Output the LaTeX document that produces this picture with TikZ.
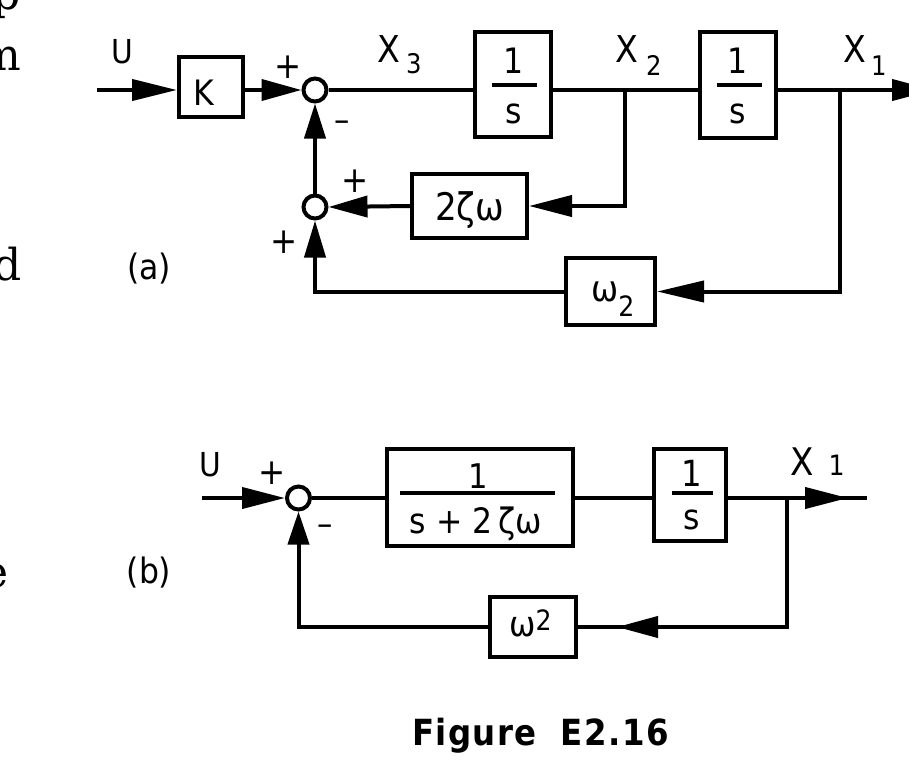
\documentclass[tikz,border=0pt]{standalone}
\usepackage{fontspec}
\setmainfont{DejaVu Sans Condensed}
\newfontfamily\figfont{DejaVu Sans Condensed}[LetterSpace=4]
\newfontfamily\leftserif{DejaVu Serif}
\usetikzlibrary{arrows.meta}
\begin{document}
\begin{tikzpicture}[x=1pt,y=-1pt,
  ln/.style={line width=4pt},
  arr/.style={ln,-{Triangle[length=#1,width=21pt]}}, arr/.default=42pt,
  blk/.style 2 args={draw,line width=4pt,inner sep=0pt,minimum width=#1,minimum height=#2},
  sumc/.style={draw,circle,line width=4pt,fill=white,inner sep=0pt,minimum size=23pt},
  fs/.style={font=\fontsize{#1}{#1}\selectfont,inner sep=0pt},
  bar/.style={line width=4.5pt}]
\clip (0,0) rectangle (909,766);
\fill[white] (0,0) rectangle (909,766);
% page fragments at left edge
\node[font=\leftserif\fontsize{44}{44}\selectfont,inner sep=0pt,anchor=base east] (fp) at (21,9) {p};
\node[font=\leftserif\fontsize{44}{44}\selectfont,inner sep=0pt,anchor=base east] (fm) at (21,70) {m};
\node[font=\leftserif\fontsize{44}{44}\selectfont,inner sep=0pt,anchor=base east] (fd) at (22,280) {d};
\node[font=\leftserif\fontsize{44}{44}\selectfont,inner sep=0pt,anchor=base east] (fe) at (9,587) {e};
% ---------- (a) ----------
\node[blk={64pt}{60pt}] (K) at (211,87) {};
\node[sumc] (s1) at (315,90) {};
\node[sumc] (s2) at (315,207) {};
\node[blk={76pt}{105pt}] (b1) at (513,84.5) {};
\node[blk={76pt}{106pt}] (b2) at (738,85) {};
\node[blk={115pt}{64pt}] (z) at (469.5,206) {};
\node[blk={89pt}{67pt}] (w2) at (610.5,291.5) {};
\coordinate (uin) at (97,90);
\coordinate (x2b) at (625,90);
\coordinate (x1b) at (840,90);
\coordinate (outa) at (934,90);
\draw[arr=45pt] (uin) -- (uin -| K.west);
\draw[arr=40pt] (K.east |- s1) -- (s1.west);
\draw[ln] (s1.east) -- (s1 -| b1.west);
\draw[ln] (s1 -| b1.east) -- (s1 -| b2.west);
\draw[arr=42pt] (s1 -| b2.east) -- (outa);
\draw[arr=43pt] (x2b) |- (z.east);
\draw[arr=39pt] (z.west) -- (s2.east);
\draw[arr=35pt] (s2.north) -- (s1.south);
\draw[arr=47pt] (x1b) |- (w2.east);
\draw[arr=37pt] (w2.west) -| (s2.south);
% fractions
\node[fs=35] (b1n) at (514,61) {1};
\draw[bar] (492,85) -- (537,85);
\node[fs=35] (b1d) at (514,114) {s};
\node[fs=35] (b2n) at (738,61) {1};
\draw[bar] (717,85) -- (762,85);
\node[fs=35] (b2d) at (738,114) {s};
% labels
\node[fs=33,anchor=base west] (lu) at (111,63) {U};
\node[fs=35,anchor=base west] (lk) at (193,105) {K};
\node[fs=36] (p1) at (288,67) {+};
\node[fs=34] (m1) at (342,126) {–};
\node[fs=36] (p2) at (355,181) {+};
\node[fs=36] (p3) at (284,242) {+};
\node[fs=37,anchor=base west] (lx3) at (377,62) {X\hspace{6pt}\raisebox{-11pt}{\fontsize{27}{27}\selectfont 3}};
\node[fs=37,anchor=base west] (lx2) at (615,62) {X\hspace{8pt}\raisebox{-13pt}{\fontsize{27}{27}\selectfont 2}};
\node[fs=37,anchor=base west] (lx1) at (843,62) {X\hspace{5pt}\raisebox{-13pt}{\fontsize{27}{27}\selectfont 1}};
\node[fs=38,anchor=base west] (lz) at (435,220) {2ζω};
\node[fs=36,anchor=base west] (lw2) at (591,301) {ω\raisebox{-15pt}{\fontsize{28}{28}\selectfont 2}};
\node[fs=35] (la) at (149,269) {(a)};
% ---------- (b) ----------
\node[sumc] (sb) at (298.5,498) {};
\node[blk={186pt}{97pt}] (bb1) at (480,497.5) {};
\node[blk={72pt}{92pt}] (bb2) at (690,495) {};
\node[blk={86pt}{60pt}] (wb) at (533,627) {};
\coordinate (ubin) at (202,498);
\coordinate (xbtip) at (848,498);
\coordinate (xbend) at (867,498);
\coordinate (xbb) at (787,498);
\coordinate (fbtip) at (617,627);
\draw[arr=43pt] (ubin) -- (sb.west);
\draw[ln] (sb.east) -- (sb -| bb1.west);
\draw[ln] (sb -| bb1.east) -- (sb -| bb2.west);
\draw[ln] (sb -| bb2.east) -- (xbend);
\draw[arr=43pt] (sb -| bb2.east) -- (xbtip);
\draw[ln] (xbb) |- (wb.east);
\draw[arr=41pt] (xbb) |- (fbtip);
\draw[arr=33pt] (wb.west) -| (sb.south);
\node[fs=34] (bb1n) at (478,476) {1};
\draw[bar] (400,493) -- (555,493);
\node[fs=35,anchor=base] (bb1d) at (476,533) {s + 2\,ζω};
\node[fs=36] (bb2n) at (692,473) {1};
\draw[bar] (672,493) -- (713,493);
\node[fs=35] (bb2d) at (692,520) {s};
\node[fs=33,anchor=base west] (lub) at (199,476) {U};
\node[fs=36] (pb) at (272,473) {+};
\node[fs=34] (mb) at (325,530) {–};
\node[fs=38,anchor=base west] (lxb) at (790,475) {X\hspace{15pt}{\fontsize{28}{28}\selectfont 1}};
\node[fs=35,anchor=base west] (lwb) at (509,636) {ω\raisebox{6pt}{\fontsize{28}{28}\selectfont 2}};
\node[fs=35] (lb) at (149,572) {(b)};
% caption
\node[font=\figfont\bfseries\fontsize{36}{36}\selectfont,inner sep=0pt,anchor=base west] (cap) at (412,745) {Figure\hspace{24pt}E2.16};
\end{tikzpicture}
\end{document}
